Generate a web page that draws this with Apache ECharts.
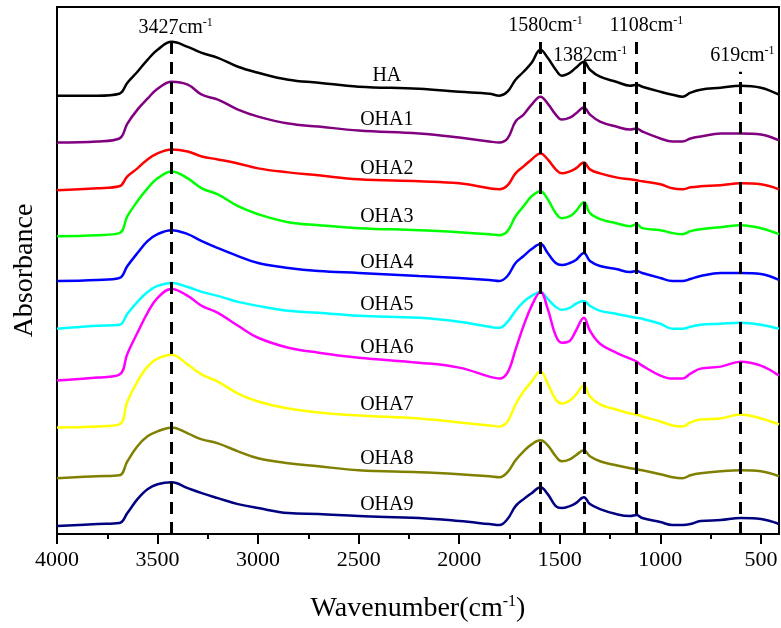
<!DOCTYPE html>
<html>
<head>
<meta charset="utf-8">
<script src="https://cdn.jsdelivr.net/npm/echarts@6/dist/echarts.min.js"></script>
<style>
  html, body { margin: 0; padding: 0; background: #fff; }
  #chart { width: 781px; height: 628px; }
</style>
</head>
<body>
<div id="chart"></div>
<script>
// === DATA ===
// wavenumber grid (cm-1), shared by all spectra
const wavenumbers = [4000, 3800, 3690, 3650, 3600, 3550, 3500, 3430, 3350, 3280, 3200, 3100, 3000, 2850, 2700, 2500,
  2200, 2000, 1850, 1800, 1760, 1720, 1680, 1640, 1596, 1560, 1520, 1490, 1450, 1420, 1380, 1350,
  1300, 1220, 1150, 1118, 1090, 1000, 940, 890, 850, 800, 700, 600, 500, 410];

const sampleNames = ['HA', 'OHA1', 'OHA2', 'OHA3', 'OHA4', 'OHA5', 'OHA6', 'OHA7', 'OHA8', 'OHA9'];

// vertical offset of each spectrum (a.u.)
const stackOffsets = [440, 393, 345, 299, 254, 206, 154, 107, 56, 8];

// absorbance above each spectrum's own baseline (a.u.)
const specHA   = [0,0,2,13,24,36,46,54,49,43,38,29,23,16,13,9,7,4,2,0,4,16,24,33,46,38,26,20,23,28,34,26,19,14,10,11,9,4,1,-1,3,6,8,10,8,1];
const specOHA1 = [0,1,4,19,33,44,54,61,58,48,43,33,26,19,16,12,9,5,1,0,4,21,28,38,46,39,28,23,25,29,35,28,21,16,13,14,11,4,1,1,4,6,9,9,8,2];
const specOHA2 = [0,2,4,14,22,31,37,41,39,34,31,27,22,18,15,11,9,7,2,1,5,17,24,31,37,31,21,17,19,22,28,21,17,13,11,10,9,6,2,1,3,4,5,7,6,1];
const specOHA3 = [0,1,3,20,35,48,58,65,58,48,42,30,22,14,11,8,6,4,2,1,5,20,30,40,45,37,23,18,20,25,34,23,17,13,10,12,8,6,3,2,5,7,9,11,8,2];
const specOHA4 = [0,1,3,15,28,40,47,51,47,40,33,25,18,13,10,8,5,3,1,0,5,18,25,32,37,28,18,16,18,21,28,20,15,12,9,10,8,3,0,0,2,5,8,8,7,1];
const specOHA5 = [0,3,4,15,27,37,43,46,42,37,33,27,23,18,16,13,11,7,2,1,7,18,27,33,37,30,22,19,21,25,28,23,18,15,12,11,10,5,0,0,2,4,5,6,4,0];
const specOHA6 = [0,3,6,27,48,68,83,92,85,75,68,55,43,33,28,23,18,13,4,2,8,31,55,75,89,72,45,38,40,50,63,50,37,28,22,19,15,5,2,2,7,12,14,19,15,5];
const specOHA7 = [0,1,3,26,46,61,69,73,63,53,46,34,26,19,15,12,9,5,2,1,6,23,36,46,56,44,28,24,27,33,42,31,23,18,14,13,11,6,2,1,5,8,9,13,9,3];
const specOHA8 = [0,2,3,17,32,42,47,51,45,39,35,27,20,15,12,8,6,4,2,1,6,18,27,34,38,33,22,17,19,23,28,22,17,13,10,9,8,4,1,0,3,5,7,8,7,2];
const specOHA9 = [0,2,3,13,27,37,42,44,38,33,28,22,18,13,12,10,8,5,2,1,7,20,27,33,39,32,20,18,20,23,29,22,17,12,10,11,8,4,1,1,2,5,6,8,7,2];

// marked bands: where the dashed line is drawn, its label, and how high it reaches
const bandPositions = [3430, 1596, 1379, 1119, 602];
const bandLabels = ['3427', '1580', '1382', '1108', '619'];
const bandTops = [503, 499, 473, 499, 464];

// axis ticks
const majorTicks = [4000, 3500, 3000, 2500, 2000, 1500, 1000, 500];
const minorTicks = [3750, 3250, 2750, 2250, 1750, 1250, 750];
const xMin = 410;
const xMax = 4000;
const yMax = 529;

// === STYLE ===
const FONT = "'Liberation Serif', 'Times New Roman', serif";
const colors = ['#000000', '#800080', '#ff0000', '#00ff00', '#0000ff', '#00ffff', '#ff00ff', '#ffff00', '#808000', '#000080'];
const spectra = [specHA, specOHA1, specOHA2, specOHA3, specOHA4, specOHA5, specOHA6, specOHA7, specOHA8, specOHA9];
const labelAt = 2360;
const bandLabelShift = [[4, 5], [5, -1], [6, 3], [10, -1], [2, -6]];

function shapeAt(spec, wn) {
  for (let i = 0; i < wavenumbers.length - 1; i++) {
    const a = wavenumbers[i], b = wavenumbers[i + 1];
    if (wn <= a && wn >= b) {
      const t = (a - wn) / (a - b);
      return spec[i] + t * (spec[i + 1] - spec[i]);
    }
  }
  return 0;
}

const supRich = {
  n: { fontFamily: FONT, fontSize: 20, color: '#000', lineHeight: 21 },
  s: { fontFamily: FONT, fontSize: 12, color: '#000', verticalAlign: 'top', lineHeight: 12 }
};

const lineSeries = spectra.map((spec, i) => ({
  name: sampleNames[i],
  type: 'line',
  data: wavenumbers.map((wn, j) => [wn, stackOffsets[i] + spec[j]]),
  showSymbol: false,
  smooth: 0.4,
  lineStyle: { color: colors[i], width: 2.5 },
  itemStyle: { color: colors[i] },
  z: 2,
  markPoint: {
    symbol: 'circle',
    symbolSize: 0,
    silent: true,
    label: {
      show: true,
      position: 'top',
      distance: 2,
      formatter: sampleNames[i],
      fontFamily: FONT,
      fontSize: 20,
      color: '#000'
    },
    data: [{ coord: [labelAt, stackOffsets[i] + shapeAt(spec, labelAt)] }]
  }
}));

const bandSeries = {
  type: 'line',
  data: [],
  z: 5,
  markLine: {
    silent: true,
    symbol: ['none', 'none'],
    lineStyle: { color: '#000', width: 3, type: [12, 8] },
    data: bandPositions.map((pos, i) => [
      { coord: [pos, 0] },
      {
        coord: [pos, bandTops[i]],
        label: {
          show: true,
          position: 'end',
          distance: 0,
          offset: bandLabelShift[i],
          formatter: '{n|' + bandLabels[i] + 'cm}{s|-1}',
          rich: supRich
        }
      }
    ])
  }
};

const chart = echarts.init(document.getElementById('chart'), null, { renderer: 'canvas' });

chart.setOption({
  animation: false,
  backgroundColor: '#fff',
  grid: { left: 57, right: 2, top: 7, bottom: 91 },
  xAxis: [
    {
      type: 'value', position: 'bottom', min: xMin, max: xMax, inverse: true,
      axisLine: { show: true, onZero: false, lineStyle: { color: '#000', width: 2 } },
      axisTick: { show: true, customValues: majorTicks, length: 10, lineStyle: { color: '#000', width: 2 } },
      axisLabel: {
        show: true, customValues: majorTicks, margin: 15,
        fontFamily: FONT, fontSize: 22, color: '#000',
        formatter: v => String(v)
      },
      splitLine: { show: false },
      name: '{n|Wavenumber(cm}{s|-1}{n|)}',
      nameLocation: 'middle',
      nameGap: 60,
      nameTextStyle: {
        rich: {
          n: { fontFamily: FONT, fontSize: 28, color: '#000', lineHeight: 30 },
          s: { fontFamily: FONT, fontSize: 16, color: '#000', verticalAlign: 'top', lineHeight: 16 }
        }
      }
    },
    {
      type: 'value', position: 'bottom', min: xMin, max: xMax, inverse: true,
      axisLine: { show: false, onZero: false },
      axisTick: { show: true, customValues: minorTicks, length: 5, lineStyle: { color: '#000', width: 2 } },
      axisLabel: { show: false },
      splitLine: { show: false }
    },
    {
      type: 'value', position: 'top', min: xMin, max: xMax, inverse: true,
      axisLine: { show: true, onZero: false, lineStyle: { color: '#000', width: 2 } },
      axisTick: { show: false },
      axisLabel: { show: false },
      splitLine: { show: false }
    }
  ],
  yAxis: [
    {
      type: 'value', position: 'left', min: 0, max: yMax,
      axisLine: { show: true, onZero: false, lineStyle: { color: '#000', width: 2 } },
      axisTick: { show: false },
      axisLabel: { show: false },
      splitLine: { show: false },
      name: 'Absorbance',
      nameLocation: 'middle',
      nameGap: 18,
      nameTextStyle: { fontFamily: FONT, fontSize: 28, color: '#000' }
    },
    {
      type: 'value', position: 'right', min: 0, max: yMax,
      axisLine: { show: true, onZero: false, lineStyle: { color: '#000', width: 2 } },
      axisTick: { show: false },
      axisLabel: { show: false },
      splitLine: { show: false }
    }
  ],
  series: lineSeries.concat([bandSeries])
});
</script>
</body>
</html>
